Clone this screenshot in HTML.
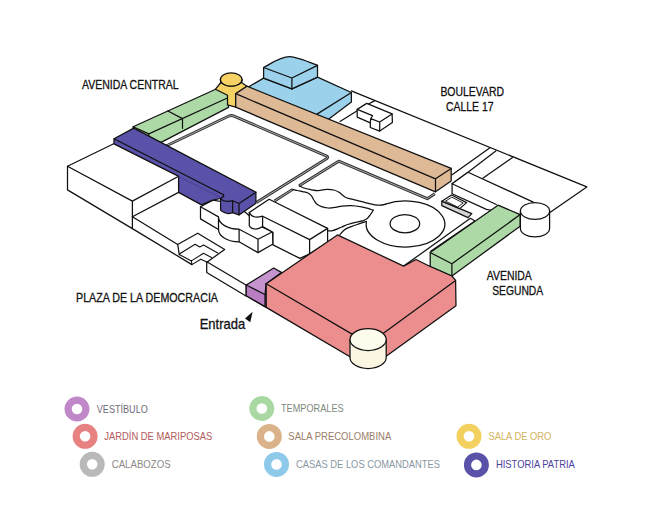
<!DOCTYPE html>
<html>
<head>
<meta charset="utf-8">
<title>Mapa</title>
<style>
html,body{margin:0;padding:0;background:#fff;}
body{width:669px;height:521px;overflow:hidden;font-family:"Liberation Sans",sans-serif;}
svg{display:block;}
.k{stroke:#111;stroke-width:1.25;stroke-linejoin:round;stroke-linecap:round;}
.w{fill:#fff;}
.n{fill:none;}
.sal{fill:#ec8e8e;}
.bei{fill:#deb996;}
.pur{fill:#5a51a8;}
.grn{fill:#acd9a6;}
.blu{fill:#9bd1eb;}
.yel{fill:#f5d263;}
.ves{fill:#c593cd;}
.ves2{fill:#b97ec2;}
.crm{fill:#fdfbec;}
.crm2{fill:#faf6e2;}
.gry{fill:#c9c9c9;}
.dbl{fill:none;stroke:#333;stroke-width:2.9;stroke-linejoin:round;}
.dbi{fill:none;stroke:#b8b8b8;stroke-width:0.9;stroke-linejoin:round;}
text{font-family:"Liberation Sans",sans-serif;}
.lab{font-size:12px;fill:#111;stroke:#111;stroke-width:0.28;}
.leg{font-size:10.5px;}
</style>
</head>
<body>
<svg width="669" height="521" viewBox="0 0 669 521">
<rect width="669" height="521" fill="#fff"/>

<!-- ===== GROUND OUTLINES (right / boulevard) ===== -->
<g class="k n">
  <path d="M351.3 90.9 L586.8 186.9 L549.9 212.4"/>
  <path d="M452.1 174.7 L489.6 148"/>
  <path d="M452.1 183.7 L468 172.3 L495.8 150.9"/>
  <path d="M482.8 178.3 L512.5 157.6"/>
</g>
<!-- platform behind right green -->
<path class="k w" d="M452.1 183.7 L468 172.3 L533.3 202.1 L520.2 214.6 L500 212 L486.4 209.4 L452.1 193.7 Z"/>
<path class="k n" d="M452.1 183.7 L496.3 204.5"/>

<!-- small house -->
<g id="house">
  <path class="k n" d="M340 121.5 L357.2 110.8 M368.5 104 L374.8 100.6"/>
  <path class="k w" d="M357.2 109.4 L366.7 103.4 L392.1 113.9 L392.4 122.5 L379.7 131.1 L370.3 127.5 L370.3 122.9 L357.2 117.1 Z"/>
  <path class="k n" d="M357.2 109.4 L372.5 115.7 L370.7 118.7 L379.7 122 L392.1 113.9 M370.7 118.7 L370.3 122.9 M379.7 122 L379.7 131.1"/>
</g>

<!-- ===== BLUE ===== -->
<g id="blue">
  <path class="k blu" d="M247.5 87.5 L263.6 78.1 L291.9 88.9 L317.5 77.1 L351.4 92.5 L351.4 101.9 L326.2 121 L316.6 117 Z"/>
  <path class="k n" d="M316.6 114.4 L351.4 92.5"/>
  <path class="k blu" d="M263.6 67.5 C272 63 281 56.5 289.8 56.7 C296 56.8 305 60.5 317.5 65.4 L317.5 77.1 L291.9 88.9 L263.6 78.1 Z"/>
  <path class="k n" d="M263.6 67.5 L291.9 78 L317.5 65.4 M291.9 78 L291.9 88.9"/>
</g>

<!-- ===== GREEN LEFT ===== -->
<g id="greenL">
  <path class="k grn" d="M133.1 126.7 L216.2 89 L228.5 95 L228.5 107.4 L161.1 142.4 L148.8 138.8 L133.1 130 Z"/>
  <path class="k n" d="M133.1 126.7 L148.8 133.9 L227.4 98 M148.8 133.9 L148.8 138.8 M167.9 111 L182.5 118.6 L182.5 128.3"/>
</g>

<!-- ===== YELLOW ===== -->
<g id="yellow">
  <path class="k yel" d="M220.4 79.5 L220.9 82.5 L215.5 89.2 L227.5 95.2 L227.5 104.9 L235.7 107.2 L235.7 93.7 L246.9 86.2 L241.6 82.5 L242 79.5 Z"/>
  <path class="k n" d="M220.4 79.5 A10.8 6.7 0 0 0 242 79.5" />
  <ellipse class="k yel" cx="231.2" cy="79.5" rx="10.8" ry="6.7"/>
</g>

<!-- ===== BEIGE ===== -->
<g id="beige">
  <path class="k bei" d="M235.7 93.7 L246.9 86.2 L451.2 168.4 L451.2 181 L435.5 191.8 L235.7 107.2 Z"/>
  <path class="k n" d="M235.7 93.7 L435.5 178.8 L451.2 168.4 M435.5 178.8 L435.5 191.8"/>
</g>

<!-- ===== COURTYARD ===== -->
<path class="dbl" d="M166.5 145.7 L228.4 116.3 Q231.2 114.9 234 116.1 L326.2 155.9 Q329 157.1 326.5 158.8 L256.3 202.6"/>
<path class="dbi" d="M166.5 145.7 L228.4 116.3 Q231.2 114.9 234 116.1 L326.2 155.9 Q329 157.1 326.5 158.8 L256.3 202.6"/>

<!-- ===== GARDEN ===== -->
<path class="dbl" d="M299.1 185.8 L338.7 161.2 L427.3 198.7 L434.8 193.7"/>
<path class="dbi" d="M299.1 185.8 L338.7 161.2 L427.3 198.7 L434.8 193.7"/>
<path class="dbl" d="M274.5 201 L292.7 189.4"/>
<path class="dbi" d="M274.5 201 L292.7 189.4"/>
<g class="k n">
  <path d="M299.1 185.8 C299.9 186.2 302.2 187.4 304.0 188.0 C305.8 188.6 307.4 189.0 309.8 189.4 C312.2 189.8 315.4 190.6 318.2 190.6 C321.0 190.6 324.0 189.5 326.6 189.4 C329.2 189.3 331.7 189.5 333.8 190.0 C335.9 190.5 337.1 191.1 339.0 192.3 C340.9 193.5 343.3 196.0 345.4 197.2 C347.5 198.3 348.4 198.3 351.7 199.2 C355.0 200.1 361.4 201.6 365.3 202.6 C369.2 203.6 372.6 204.5 375.0 204.9 C377.4 205.3 378.2 205.3 380.0 205.2 C381.8 205.1 384.6 204.4 385.5 204.2"/>
  <path d="M292.7 189.4 C293.5 189.6 295.9 190.1 297.5 190.5 C299.1 190.9 300.8 191.2 302.5 191.6 C304.2 192.0 306.0 192.1 307.5 192.8 C309.0 193.5 310.2 194.4 311.3 195.6 C312.4 196.8 312.9 198.6 313.8 200.0 C314.8 201.4 315.7 203.2 317.0 204.3 C318.3 205.4 319.6 206.0 321.5 206.6 C323.4 207.2 326.1 207.9 328.5 208.0 C330.9 208.1 333.9 207.6 336.2 207.3 C338.4 207.0 339.6 206.4 342.0 206.1 C344.4 205.8 347.5 205.5 350.8 205.6 C354.1 205.7 358.7 206.3 361.6 206.8 C364.5 207.3 366.1 207.8 368.0 208.4 C369.9 209.0 372.3 209.9 373.2 210.2"/>
  <path d="M373.2 210.2 C372.8 210.9 371.4 213.2 370.5 214.5 C369.6 215.8 368.7 217.3 367.5 218.3 C366.3 219.3 365.2 219.9 363.4 220.6 C361.6 221.2 359.1 221.5 356.5 222.2 C353.9 222.8 350.2 223.7 347.8 224.5 C345.4 225.3 344.3 226.0 341.8 227.0 C339.3 228.0 335.2 230.0 332.8 230.6 C330.4 231.2 328.2 230.8 327.3 230.8"/>
  <path d="M366.4 221.5 C365.5 221.8 363.0 222.5 361.0 223.2 C359.0 223.9 357.0 224.5 354.4 225.5 C351.8 226.5 347.8 227.6 345.4 229.1 C343.0 230.6 340.9 233.6 340.0 234.5"/>
  <path d="M385.5 204.2 A39.3 23 0 1 1 366.4 221.5"/>
</g>
<ellipse class="k w" cx="404.9" cy="223.7" rx="14.8" ry="9.1"/>

<!-- ground near right green -->
<path class="k w" d="M403.6 266.1 L416 257.3 L470.4 218.3 L475 221 L431 251 L431 266 Z"/>

<!-- gray bench -->
<g id="bench">
  <path class="k" fill="#d4d4d4" d="M441.8 201.2 L471.8 213.6 L468 217.6 L441.8 205.6 Z"/>
  <path class="k w" d="M441.8 201.2 L451.5 195 L466.6 202.6 L459.8 208.6 Z"/>
  <path class="k n" style="stroke-width:0.9" d="M445.8 201 L451.8 197.2 L463.2 203 L458 206.8 Z"/>
</g>

<!-- ===== LEFT WHITE BLOCK ===== -->
<g id="leftblock">
  <path class="w" d="M132.4 216.8 L178.6 192.4 L201.5 204.9 L200.6 217.6 L218.6 227.7 L258.7 252.4 L299.9 258.4 L266.2 283.7 L246 285 L246 296 L206.5 273.6 L191.9 264.2 L132.4 228.6 Z"/>
  <path class="k w" d="M67.5 166.2 L113.7 143.7 L178.6 176.2 L178.6 192.4 L132.4 216.8 L132.4 228.6 L67.5 189.9 Z"/>
  <path class="k n" d="M67.5 166.2 L132.4 201.1 L178.6 176.2 M132.4 201.1 L132.4 216.8"/>
  <path class="k n" d="M132.4 228.6 L191.9 264.6 M132.4 216.8 L177.7 244.5 L197.7 233.2 L224.7 249.5 L207.2 262 L246 285 M206.7 262 L206.7 272.5 L246 296 M177.7 244.5 L179.3 254.6"/>
  <path class="k n" style="stroke-width:1.1" d="M179.3 254 L195.1 244.2 L199.8 247 L203.5 245.1 L217.8 253 M179.3 254.6 L191.4 260.9 L203.5 253.3 L211.5 257.5 M191.4 260.9 L191.9 264.6 L200.9 259.3 L207.2 262.2"/>
</g>

<!-- ===== MIDDLE WHITE BLOCKS ===== -->
<g id="b1">
  <path class="k w" d="M200.5 206.8 L212.8 200.1 L230 203 L245 212 L262.5 227.2 L272.6 231.8 L273 244 L258 252.6 L239.1 241.8 A20.6 12.3 0 0 1 218.5 229.5 L200.5 218.9 Z"/>
  <path class="k n" d="M200.5 206.8 L218.5 216.9 A20.6 12.3 0 0 0 239.1 229.2 L258 239.2 L272.6 231.8 M239.1 229.2 L239.1 241.8 M258 239.2 L258 252.6 M218.5 216.9 L218.5 229.5"/>
</g>
<g id="b2">
  <path class="k w" d="M269.2 199.2 L327.6 228.4 L327.6 242.6 L309.6 253.9 L299.9 258.4 L273 244.9 L273 232.4 L262.6 226.6 C260 228.4 257.5 229.2 255 229 C252 228.6 250 227.3 249.3 225.7 L249.3 212.4 Z"/>
  <path class="k n" d="M249.3 212.4 C250.2 214.4 252.3 216.4 255 217 C257.5 217.5 260 216.9 262.6 216.2 L309.6 239.6 L327.6 228.4 M262.6 216.2 L262.6 226.6 M309.6 239.6 L309.6 253.9"/>
</g>

<!-- ===== PURPLE (HISTORIA PATRIA) ===== -->
<g id="purple">
  <path class="k pur" d="M114 138.8 L133.7 128.1 L255.9 192.2 L255.9 203.3 L239 214.9 L232.6 212.6 C230 213.6 226.5 213.8 224.8 212.6 C222.5 211.8 221 211 220.6 210.2 L220.6 198.5 L212.8 200.1 L201.5 204.9 L178.6 192.4 L178.6 176.2 L114 143.7 Z"/>
  <path class="k n" d="M114 138.8 L223.6 194.7 L223.6 196.4 L220.6 198.3 C221.5 200 224 201.2 227.2 201.4 C229.5 201.5 231 201.3 232.6 200.7 L239 203.5 L255.9 192.2 M232.6 200.7 L232.6 212.6 M239 203.5 L239 214.9"/>
  <path d="M178.6 176.6 L221 197.9" fill="none" stroke="#453d92" stroke-width="0.9"/>
</g>

<!-- ===== RIGHT GREEN ===== -->
<g id="greenR">
  <path class="k grn" d="M430.2 252.5 L498 205.2 L520.2 214.6 L520.2 226.2 L451.9 276 L430.2 266.5 Z"/>
  <path class="k n" d="M430.2 252.5 L451.9 263.8 L520.2 214.6 M451.9 263.8 L451.9 276"/>
</g>
<!-- right cylinder -->
<path class="k w" d="M520.4 211 L520.4 228.6 A14.6 8.4 0 0 0 549.6 228.6 L549.6 211 Z"/>
<ellipse class="k w" cx="535" cy="211" rx="14.6" ry="8.4"/>

<!-- ===== VESTIBULO ===== -->
<g id="vest">
  <path class="k ves" d="M246.2 285 L273.7 268 L281.4 272.4 L266.2 283.7 L266.2 307.4 L246.2 295.8 Z"/>
  <path class="k ves2" d="M246.2 285 L265 294.5 L265 306.6 L246.2 295.8 Z"/>
  <path class="k n" d="M265 294.5 L266.2 283.7"/>
</g>

<!-- ===== SALMON ===== -->
<g id="salmon">
  <path class="k sal" d="M266.2 283.7 L337.4 234.9 L403.6 266.1 L416 259.5 L430.2 266.5 L451.9 276 L455.6 280.4 L456 305.8 L369.5 368.3 L266.2 307.4 Z"/>
  <path class="k n" d="M266.2 283.7 L368.7 343.9 L455.6 280.4 M368.7 343.9 L369.5 368.3"/>
</g>
<!-- cream cylinder -->
<path class="k crm2" d="M350 339.6 L350 357.6 A18.1 10.9 0 0 0 386.2 357.6 L386.2 339.6 Z"/>
<ellipse class="k crm" cx="368.1" cy="339.6" rx="18.1" ry="10.9"/>

<!-- ===== LABELS ===== -->
<g class="lab">
  <text x="82" y="89.3" textLength="96.6" lengthAdjust="spacingAndGlyphs">AVENIDA CENTRAL</text>
  <text x="440.4" y="96.3" textLength="63.6" lengthAdjust="spacingAndGlyphs">BOULEVARD</text>
  <text x="446.1" y="111.2" textLength="47.4" lengthAdjust="spacingAndGlyphs">CALLE 17</text>
  <text x="486.8" y="280" textLength="45" lengthAdjust="spacingAndGlyphs">AVENIDA</text>
  <text x="492.2" y="295.4" textLength="51" lengthAdjust="spacingAndGlyphs">SEGUNDA</text>
  <text x="76" y="301.8" textLength="142" lengthAdjust="spacingAndGlyphs">PLAZA DE LA DEMOCRACIA</text>
  <text x="199.7" y="329.4" textLength="45.5" lengthAdjust="spacingAndGlyphs" style="font-size:14.5px;stroke-width:0.3">Entrada</text>
</g>
<path d="M245 318.6 L252.6 311.8 L250.3 322.2 Z" fill="#111"/>

<!-- ===== LEGEND ===== -->
<g fill="none" stroke-width="7.2">
  <circle cx="77" cy="409" r="8.9" stroke="#c188c9"/>
  <circle cx="85.1" cy="436.3" r="8.9" stroke="#e88181"/>
  <circle cx="92.2" cy="464.3" r="8.9" stroke="#b9b9b9"/>
  <circle cx="261.8" cy="408.5" r="8.9" stroke="#a9d8a3"/>
  <circle cx="269.3" cy="436.4" r="8.9" stroke="#dbb38b"/>
  <circle cx="276.5" cy="464.4" r="8.9" stroke="#8dcaea"/>
  <circle cx="469" cy="436.3" r="8.9" stroke="#f3d161"/>
  <circle cx="476.4" cy="464.9" r="8.9" stroke="#5a51a8"/>
</g>
<g class="leg">
  <text x="96.8" y="412.6" fill="#6e6a78" textLength="51" lengthAdjust="spacingAndGlyphs">VESTÍBULO</text>
  <text x="104.3" y="440" fill="#b05a5a" textLength="108" lengthAdjust="spacingAndGlyphs">JARDÍN DE MARIPOSAS</text>
  <text x="111.7" y="467.8" fill="#8a8a8a" textLength="59" lengthAdjust="spacingAndGlyphs">CALABOZOS</text>
  <text x="281" y="412" fill="#7e8a7e" textLength="62.7" lengthAdjust="spacingAndGlyphs">TEMPORALES</text>
  <text x="288.3" y="440.2" fill="#9a7e68" textLength="103" lengthAdjust="spacingAndGlyphs">SALA PRECOLOMBINA</text>
  <text x="296" y="468.4" fill="#8a97a2" textLength="144" lengthAdjust="spacingAndGlyphs">CASAS DE LOS COMANDANTES</text>
  <text x="488.4" y="440" fill="#d4b45e" textLength="63" lengthAdjust="spacingAndGlyphs">SALA DE ORO</text>
  <text x="495.9" y="468.2" fill="#4b43a0" textLength="79" lengthAdjust="spacingAndGlyphs">HISTORIA PATRIA</text>
</g>
</svg>
</body>
</html>
